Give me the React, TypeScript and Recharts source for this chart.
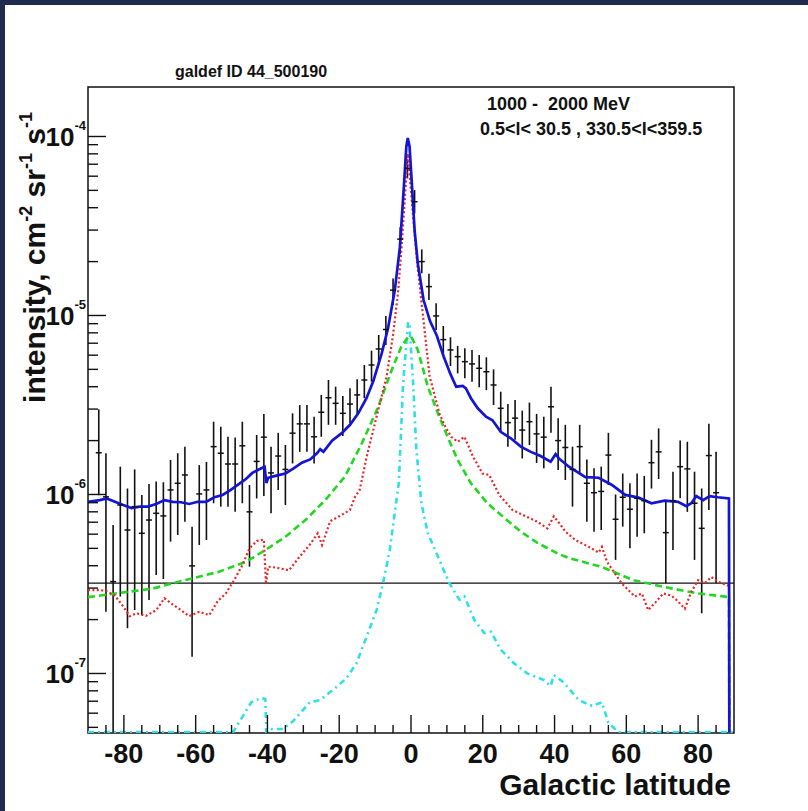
import React from 'react';
import { ComposedChart, Line, Scatter, XAxis, YAxis, ErrorBar, ReferenceLine, ReferenceArea } from 'recharts';

// ---------------- data ----------------
const pointLat = [
  -87, -85, -83, -81, -79, -77, -75, -73, -71, -69, -67, -65, -63, -61, -59, -57, -55, -53, -51, -49, -47, -45,
  -43, -41, -39, -37, -35, -33, -31, -29, -27, -25, -23, -21, -19, -17, -15, -13, -11, -9, -7, -5, -3, -1,
  1, 3, 5, 7, 9, 11, 13, 15, 17, 19, 21, 23, 25, 27, 29, 31, 33, 35, 37, 39, 41, 43,
  45, 47, 49, 51, 53, 55, 57, 59, 61, 63, 65, 67, 69, 71, 73, 75, 77, 79, 81, 83, 85,
];
const pointVal = [
  1.71e-6, 9.7e-7, 3.26e-7, 8.73e-7, 6.33e-7, 8.55e-7, 6.07e-7, 7.2e-7, 7.85e-7, 7.59e-7, 1.06e-6, 1.155e-6, 1.285e-6, 3.99e-7, 1.007e-6, 1.06e-6, 1.85e-6, 1.7e-6, 1.48e-6, 1.48e-6, 1.87e-6, 8.0e-7,
  1.53e-6, 2.09e-6, 1.32e-6, 1.64e-6, 1.38e-6, 2.2e-6, 2.48e-6, 2.48e-6, 2.1e-6, 2.88e-6, 3.47e-6, 3.23e-6, 2.84e-6, 3.2e-6, 3.6e-6, 4.36e-6, 5.29e-6, 6.5e-6, 8.35e-6, 1.385e-5, 2.67e-5, 6.64e-5,
  4.32e-5, 2.0e-5, 1.45e-5, 9.94e-6, 7.33e-6, 6.42e-6, 5.89e-6, 5.52e-6, 5.36e-6, 5.07e-6, 4.85e-6, 4.09e-6, 3.03e-6, 2.52e-6, 2.67e-6, 2.29e-6, 2.55e-6, 2.18e-6, 2.09e-6, 3.09e-6, 2.0e-6, 1.83e-6,
  1.38e-6, 1.85e-6, 1.155e-6, 1.023e-6, 1.04e-6, 1.66e-6, 7.27e-7, 9.65e-7, 8.27e-7, 9.52e-7, 9.23e-7, 1.505e-6, 1.73e-6, 6.12e-7, 9.23e-7, 1.43e-6, 1.39e-6, 8.93e-7, 6.47e-7, 1.65e-6, 1.023e-6,
];
const pointLow = [
  9.9e-7, 2.21e-7, 4.7e-8, 2.69e-7, 1.79e-7, 2.26e-7, 2.12e-7, 2.57e-7, 3.55e-7, 3.37e-7, 5.45e-7, 5.94e-7, 7.05e-7, 1.24e-7, 5.22e-7, 5.57e-7, 8.93e-7, 8.55e-7, 8.55e-7, 8.0e-7, 8.93e-7, 3.95e-7,
  9.5e-7, 9.8e-7, 7.85e-7, 1.06e-6, 8.73e-7, 1.49e-6, 1.73e-6, 1.73e-6, 1.49e-6, 2.1e-6, 2.45e-6, 2.45e-6, 2.12e-6, 2.5e-6, 2.78e-6, 3.45e-6, 4.27e-6, 5.29e-6, 6.85e-6, 1.145e-5, 2.21e-5, 5.84e-5,
  3.72e-5, 1.72e-5, 1.22e-5, 8.3e-6, 6.0e-6, 5.22e-6, 4.75e-6, 4.46e-6, 4.27e-6, 3.97e-6, 3.83e-6, 3.16e-6, 2.21e-6, 1.85e-6, 2.02e-6, 1.59e-6, 1.89e-6, 1.5e-6, 1.4e-6, 2.21e-6, 1.37e-6, 1.205e-6,
  8.55e-7, 1.31e-6, 7.05e-7, 6.2e-7, 6.33e-7, 1.13e-6, 4.31e-7, 6.61e-7, 5.0e-7, 5.81e-7, 6.07e-7, 1.08e-6, 1.22e-6, 3.19e-7, 4.9e-7, 9.52e-7, 8.0e-7, 4.31e-7, 2.17e-7, 8.19e-7, 3.19e-7,
];
const pointHigh = [
  2.99e-6, 1.7e-6, 6.76e-7, 1.43e-6, 1.08e-6, 1.38e-6, 9.94e-7, 1.145e-6, 1.18e-6, 1.17e-6, 1.56e-6, 1.7e-6, 1.85e-6, 6.61e-7, 1.46e-6, 1.52e-6, 2.55e-6, 2.39e-6, 2.1e-6, 2.08e-6, 2.55e-6, 1.13e-6,
  2.15e-6, 2.82e-6, 1.85e-6, 2.21e-6, 1.89e-6, 2.84e-6, 3.16e-6, 3.16e-6, 2.72e-6, 3.6e-6, 4.36e-6, 4.0e-6, 3.55e-6, 3.92e-6, 4.4e-6, 5.29e-6, 6.36e-6, 7.78e-6, 9.94e-6, 1.61e-5, 3.11e-5, 7.46e-5,
  5.02e-5, 2.34e-5, 1.71e-5, 1.17e-5, 8.74e-6, 7.55e-6, 6.76e-6, 6.56e-6, 6.42e-6, 6.02e-6, 5.84e-6, 5.0e-6, 3.75e-6, 3.2e-6, 3.37e-6, 2.94e-6, 3.26e-6, 2.82e-6, 2.72e-6, 4.0e-6, 2.67e-6, 2.45e-6,
  1.85e-6, 2.45e-6, 1.57e-6, 1.4e-6, 1.43e-6, 2.21e-6, 1.0e-6, 1.31e-6, 1.155e-6, 1.31e-6, 1.27e-6, 2.02e-6, 2.34e-6, 9.11e-7, 1.34e-6, 2.0e-6, 1.97e-6, 1.34e-6, 1.08e-6, 2.48e-6, 1.73e-6,
];

const totalLat = [
  -90, -86.7, -84.8, -82.5, -80.2, -77.9, -75.6, -73.3, -71, -68.7, -66.4, -64.1, -61.8, -59.4, -57.1, -54.8, -52.5, -50.2, -47.9, -46,
  -44.2, -42.4, -40.8, -40.3, -39.8, -37.8, -35, -32.7, -30.4, -28.1, -26.2, -25.3, -24.4, -22, -19.3, -17, -14.7, -12.4, -10.5, -8.2,
  -6.4, -4.5, -3.1, -2.0, -1.3, -0.9, -0.4, 0.3, 1.0, 1.9, 3.5, 5.3, 7.2, 9.1, 11, 12.6, 14.4, 15.3, 16.7, 18.6,
  20.9, 22.7, 25, 27.8, 30.6, 33.4, 36.1, 38.9, 40.3, 41.2, 44, 48.6, 52.3, 56, 59.7, 63.4, 67, 70.7, 74.4, 76.7,
  78.1, 79.5, 81.4, 83.2, 85.5, 88.6, 88.7,
];
const totalVal = [
  9.1e-7, 9.3e-7, 9.5e-7, 9.1e-7, 8.73e-7, 8.4e-7, 8.55e-7, 8.55e-7, 8.85e-7, 9.3e-7, 9.1e-7, 9.05e-7, 8.85e-7, 9.1e-7, 9.1e-7, 9.65e-7, 9.94e-7, 1.06e-6, 1.145e-6, 1.22e-6,
  1.32e-6, 1.38e-6, 1.43e-6, 1.16e-6, 1.24e-6, 1.27e-6, 1.31e-6, 1.4e-6, 1.505e-6, 1.57e-6, 1.7e-6, 1.79e-6, 1.73e-6, 2.0e-6, 2.2e-6, 2.45e-6, 2.84e-6, 3.45e-6, 4.3e-6, 6.1e-6,
  8.5e-6, 1.39e-5, 2.4e-5, 5.2e-5, 8.8e-5, 9.8e-5, 8.8e-5, 5.2e-5, 3.0e-5, 1.95e-5, 1.22e-5, 9.3e-6, 7.7e-6, 5.9e-6, 4.7e-6, 4.0e-6, 4.04e-6, 3.92e-6, 3.45e-6, 3.03e-6,
  2.72e-6, 2.6e-6, 2.24e-6, 2.06e-6, 1.85e-6, 1.73e-6, 1.64e-6, 1.525e-6, 1.68e-6, 1.59e-6, 1.43e-6, 1.25e-6, 1.24e-6, 1.13e-6, 9.94e-7, 9.6e-7, 8.93e-7, 9.23e-7, 9.1e-7, 8.6e-7,
  8.93e-7, 9.8e-7, 9.3e-7, 9.8e-7, 9.65e-7, 9.5e-7, 4.7e-8,
];

const pionLat = [
  -90, -87, -85, -82.5, -80.2, -78.4, -76.5, -73.8, -71, -68.7, -66.4, -64.1, -61.8, -59, -56.2, -53.9, -51.6, -49.3, -47, -45,
  -43, -41, -40.4, -39.8, -37.5, -34, -31, -28, -26, -24.8, -22.5, -20, -17, -15.6, -14.3, -12.3, -9.6, -6.8, -5, -3.6,
  -2.7, -1.8, -0.9, -0.2, 0.8, 1.8, 3, 5.2, 7.9, 9.5, 11.2, 13, 14.9, 17.2, 19.9, 21.8, 24.6, 28.3, 32, 35.2,
  38, 39.8, 41.7, 43, 45.8, 49.5, 52.3, 53.2, 54.6, 56.9, 58.7, 60.6, 62.4, 64.3, 66.1, 68, 70.3, 72.6, 74.4, 76.3,
  78.1, 80, 81.8, 83.7, 85.5, 88.6, 88.7,
];
const pionVal = [
  2.92e-7, 2.92e-7, 2.9e-7, 2.72e-7, 2.37e-7, 2.09e-7, 2.17e-7, 2.1e-7, 2.26e-7, 2.63e-7, 2.43e-7, 2.26e-7, 2.09e-7, 2.21e-7, 2.12e-7, 2.53e-7, 2.8e-7, 3.32e-7, 4.02e-7, 5.0e-7,
  5.5e-7, 5.6e-7, 3.15e-7, 3.95e-7, 3.9e-7, 3.77e-7, 4.5e-7, 5.3e-7, 6.07e-7, 5.22e-7, 7.1e-7, 7.55e-7, 8.2e-7, 9.7e-7, 1.06e-6, 1.64e-6, 2.72e-6, 4.56e-6, 7.8e-6, 1.35e-5,
  2.3e-5, 4.2e-5, 8.0e-5, 5.5e-5, 3.2e-5, 1.9e-5, 1.15e-5, 4.56e-6, 2.84e-6, 2.4e-6, 2.1e-6, 1.97e-6, 2.1e-6, 1.64e-6, 1.31e-6, 1.285e-6, 9.94e-7, 8.19e-7, 7.55e-7, 7.05e-7,
  6.47e-7, 7.55e-7, 6.76e-7, 6.2e-7, 5.57e-7, 5.1e-7, 4.74e-7, 5.1e-7, 4.21e-7, 3.6e-7, 3.19e-7, 2.92e-7, 2.69e-7, 2.8e-7, 2.26e-7, 2.48e-7, 2.8e-7, 2.72e-7, 2.53e-7, 2.3e-7,
  2.86e-7, 3.32e-7, 3.19e-7, 3.46e-7, 3.26e-7, 3.08e-7, 4.7e-8,
];

const icLat = [
  -90, -81, -72, -63, -53.5, -46, -40.5, -35, -29.4, -23.9, -18.4, -13.7, -9.1, -5.4, -2.7, -0.8, 0.1, 1.9, 4.7, 7.5,
  10.2, 13, 16.7, 21.3, 26, 30.6, 35.2, 40.7, 44, 53, 62, 71, 80, 88.6, 88.7,
];
const icVal = [
  2.67e-7, 2.82e-7, 2.98e-7, 3.32e-7, 3.7e-7, 4.21e-7, 4.9e-7, 5.8e-7, 7.2e-7, 9.3e-7, 1.26e-6, 1.93e-6, 3.09e-6, 4.94e-6, 6.7e-6, 7.6e-6, 7.6e-6, 6.42e-6, 4.0e-6, 2.84e-6,
  2.1e-6, 1.56e-6, 1.155e-6, 8.93e-7, 7.4e-7, 6.2e-7, 5.37e-7, 4.7e-7, 4.41e-7, 3.95e-7, 3.32e-7, 3.03e-7, 2.8e-7, 2.67e-7, 4.7e-8,
];

const bremssLat = [
  -90, -49.6, -46.8, -44.5, -41.7, -40.6, -40.3, -39.4, -35.7, -32.9, -28.2, -25.4, -21.7, -18, -15.2, -12.4, -9.6, -7.8, -5.9, -4.5,
  -3.4, -2.2, -0.8, -0.4, 0.6, 1.5, 2.9, 4.7, 7.5, 10.7, 13.5, 14.9, 17.6, 20.4, 22.3, 25, 28.7, 32.4, 37, 38.9,
  39.8, 42.6, 46.7, 50.4, 53.2, 55, 57.8, 90,
];
const bremssVal = [
  4.7e-8, 4.7e-8, 5.8e-8, 6.9e-8, 7.3e-8, 7.2e-8, 4.7e-8, 4.9e-8, 4.9e-8, 5.4e-8, 6.9e-8, 7.1e-8, 8.1e-8, 9.4e-8, 1.14e-7, 1.6e-7, 2.26e-7, 3.19e-7, 4.9e-7, 8.0e-7,
  1.155e-6, 4.16e-6, 9.2e-6, 8.7e-6, 4.16e-6, 1.77e-6, 8.93e-7, 6.07e-7, 4.5e-7, 3.19e-7, 2.58e-7, 2.69e-7, 2.0e-7, 1.68e-7, 1.71e-7, 1.36e-7, 1.14e-7, 1.0e-7, 9.2e-8, 8.5e-8,
  9.8e-8, 8.9e-8, 7.1e-8, 6.6e-8, 6.9e-8, 5.3e-8, 4.7e-8, 4.7e-8,
];

const isotropicLevel = 3.2e-7;

const xMajorTicks = [-80, -60, -40, -20, 0, 20, 40, 60, 80];
const xMinorTicks = [-85, -75, -70, -65, -55, -50, -45, -35, -30, -25, -15, -10, -5, 5, 10, 15, 25, 30, 35, 45, 50, 55, 65, 70, 75, 85];
const yMajorTicks = [1e-7, 1e-6, 1e-5, 1e-4];
const yMajorExponents = ['-7', '-6', '-5', '-4'];
const yMinorTicks = [
  5e-8, 6e-8, 7e-8, 8e-8, 9e-8,
  2e-7, 3e-7, 4e-7, 5e-7, 6e-7, 7e-7, 8e-7, 9e-7,
  2e-6, 3e-6, 4e-6, 5e-6, 6e-6, 7e-6, 8e-6, 9e-6,
  2e-5, 3e-5, 4e-5, 5e-5, 6e-5, 7e-5, 8e-5, 9e-5,
];

const xDomain = [-90, 90];
const yDomain = [4.65e-8, 1.89e-4];

// ---------------- assembled tables ----------------
const pointData = pointLat.map((x, i) => ({
  x,
  y: pointVal[i],
  err: [pointVal[i] - pointLow[i], pointHigh[i] - pointVal[i]],
}));
const mk = (lat: number[], val: number[]) => lat.map((x, i) => ({ x, y: val[i] }));
const totalData = mk(totalLat, totalVal);
const pionData = mk(pionLat, pionVal);
const icData = mk(icLat, icVal);
const bremssData = mk(bremssLat, bremssVal);

const FONT = '"Liberation Sans", Arial, Helvetica, sans-serif';
const INK = '#111111';

function XTick(props: any) {
  const { x, y, payload } = props;
  const v = payload.value as number;
  const major = xMajorTicks.indexOf(v) >= 0;
  return (
    <g>
      <line x1={x} x2={x} y1={y} y2={y - (major ? 18 : 8)} stroke={INK} strokeWidth={1.4} />
      {major ? (
        <text x={x} y={y + 30} textAnchor="middle" fontFamily={FONT} fontWeight="bold" fontSize={27} fill={INK}>
          {String(v)}
        </text>
      ) : null}
    </g>
  );
}

function YTick(props: any) {
  const { x, y, payload } = props;
  const v = payload.value as number;
  const idx = yMajorTicks.indexOf(v);
  const major = idx >= 0;
  return (
    <g>
      <line x1={x} x2={x + (major ? 18 : 10)} y1={y} y2={y} stroke={INK} strokeWidth={1.4} />
      {major ? (
        <text x={x - 2} y={y + 10} textAnchor="end" fontFamily={FONT} fontWeight="bold" fontSize={26} fill={INK}>
          <tspan>10</tspan>
          <tspan dy={-16} fontSize={13}>{yMajorExponents[idx]}</tspan>
        </text>
      ) : null}
    </g>
  );
}

function CrossMark(props: any) {
  const { cx, cy } = props;
  if (cx == null || cy == null) return null;
  return <line x1={cx - 3} x2={cx + 3} y1={cy} y2={cy} stroke={INK} strokeWidth={1.5} />;
}

export default function App() {
  return (
    <div style={{ position: 'absolute', left: 0, top: 0, width: 808, height: 811, background: '#1f2c4f', overflow: 'hidden' }}>
      <div style={{ position: 'absolute', left: 5, top: 5, width: 803, height: 806, background: '#ffffff' }} />
      <div style={{ position: 'absolute', left: 0, top: 0 }}>
        <ComposedChart width={808} height={811} margin={{ top: 87, right: 74, bottom: 77, left: 87 }}>
          <XAxis
            type="number"
            dataKey="x"
            domain={xDomain}
            allowDataOverflow
            ticks={[...xMajorTicks, ...xMinorTicks]}
            interval={0}
            tick={XTick}
            tickLine={false}
            axisLine={false}
            height={1}
            tickSize={0}
            tickMargin={0}
          />
          <YAxis
            type="number"
            dataKey="y"
            scale="log"
            domain={yDomain}
            allowDataOverflow
            ticks={[...yMajorTicks, ...yMinorTicks]}
            interval={0}
            tick={YTick}
            tickLine={false}
            axisLine={false}
            width={1}
            tickSize={0}
            tickMargin={0}
          />
          <ReferenceArea x1={-90} x2={90} y1={yDomain[0]} y2={yDomain[1]} fill="none" fillOpacity={0} stroke={INK} strokeWidth={1.5} ifOverflow="visible" />
          <ReferenceLine y={isotropicLevel} stroke={INK} strokeWidth={1.2} />
          <Scatter data={pointData} dataKey="y" shape={CrossMark} isAnimationActive={false}>
            <ErrorBar dataKey="err" direction="y" width={0} stroke={INK} strokeWidth={1.6} />
          </Scatter>
          <Line data={bremssData} dataKey="y" type="linear" stroke="#2ee0e6" strokeWidth={2.6} strokeDasharray="6 4 2 4" dot={false} isAnimationActive={false} />
          <Line data={icData} dataKey="y" type="linear" stroke="#22d622" strokeWidth={2.6} strokeDasharray="7 4" dot={false} isAnimationActive={false} />
          <Line data={pionData} dataKey="y" type="linear" stroke="#e82626" strokeWidth={2.2} strokeDasharray="2 2.4" dot={false} isAnimationActive={false} />
          <Line data={totalData} dataKey="y" type="linear" stroke="#1414d4" strokeWidth={2.7} dot={false} isAnimationActive={false} />
        </ComposedChart>
      </div>
      <svg width={808} height={811} style={{ position: 'absolute', left: 0, top: 0, pointerEvents: 'none' }}>
        <text x={175} y={77} fontFamily={FONT} fontWeight="bold" fontSize={16} fill={INK}>galdef ID 44_500190</text>
        <text x={487} y={110} fontFamily={FONT} fontWeight="bold" fontSize={18} fill={INK} xmlSpace="preserve">1000 -  2000 MeV</text>
        <text x={480} y={135} fontFamily={FONT} fontWeight="bold" fontSize={18} fill={INK}>0.5&lt;l&lt; 30.5 , 330.5&lt;l&lt;359.5</text>
        <text x={731} y={795} textAnchor="end" fontFamily={FONT} fontWeight="bold" fontSize={30} fill={INK}>Galactic latitude</text>
        <text x={45} y={112} transform="rotate(-90 45 112)" textAnchor="end" fontFamily={FONT} fontWeight="bold" fontSize={30} fill={INK}>
          <tspan>intensity, cm</tspan>
          <tspan dy={-13} fontSize={18}>-2</tspan>
          <tspan dy={13}> sr</tspan>
          <tspan dy={-13} fontSize={18}>-1</tspan>
          <tspan dy={13}> s</tspan>
          <tspan dy={-13} fontSize={18}>-1</tspan>
        </text>
      </svg>
    </div>
  );
}
